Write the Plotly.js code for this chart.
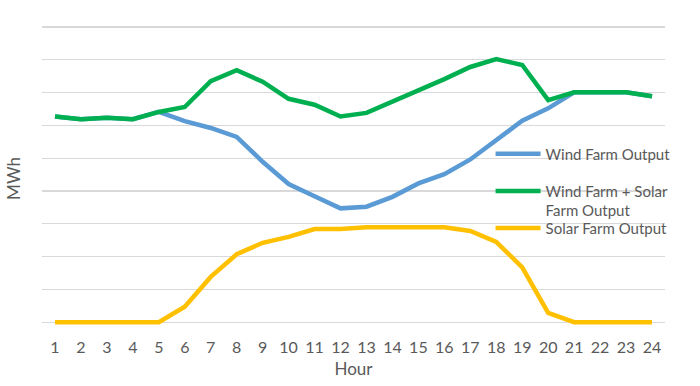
<!DOCTYPE html>
<html>
<head>
<meta charset="utf-8">
<script src="https://cdn.plot.ly/plotly-3.0.1.min.js"></script>
<style>html,body{margin:0;padding:0;background:#fff;}#chart{width:700px;height:386px;}</style>
</head>
<body>
<div id="chart"></div>
<script>
const hours = [1,2,3,4,5,6,7,8,9,10,11,12,13,14,15,16,17,18,19,20,21,22,23,24];
const windOutput = [6.27,6.19,6.23,6.19,6.41,6.13,5.92,5.65,4.89,4.21,3.84,3.47,3.52,3.82,4.23,4.51,4.96,5.55,6.14,6.52,7.01,7.01,7.01,6.89];
const windSolarOutput = [6.27,6.19,6.23,6.19,6.41,6.56,7.35,7.68,7.33,6.81,6.63,6.27,6.38,6.72,7.05,7.41,7.78,8.02,7.84,6.77,7.01,7.01,7.01,6.89];
const solarOutput = [0,0,0,0,0,0.47,1.38,2.07,2.42,2.60,2.84,2.84,2.89,2.89,2.89,2.89,2.78,2.45,1.67,0.28,0,0,0,0];

const FONT = 'Lato, sans-serif';
const TXT = '#595959';

const traces = [
  {x: hours, y: windOutput, type: 'scatter', mode: 'lines', name: 'Wind Farm Output',
   line: {color: '#5B9BD5', width: 4.5}, legend: 'legend'},
  {x: hours, y: windSolarOutput, type: 'scatter', mode: 'lines', name: 'Wind Farm + Solar<br>Farm Output',
   line: {color: '#00B050', width: 4.5}, legend: 'legend2'},
  {x: hours, y: solarOutput, type: 'scatter', mode: 'lines', name: 'Solar Farm Output',
   line: {color: '#FFC000', width: 4.5}, legend: 'legend3'}
];

const legBase = {bgcolor: 'rgba(0,0,0,0)', borderwidth: 0, font: {family: FONT, size: 15, color: TXT},
  xanchor: 'left', x: 0.72, valign: 'top', itemwidth: 45};

const layout = {
  width: 700, height: 386,
  margin: {l: 42, r: 35, t: 25, b: 54},
  paper_bgcolor: '#fff', plot_bgcolor: '#fff',
  font: {family: FONT, color: TXT},
  showlegend: true,
  legend: Object.assign({}, legBase, {y: 0.58, yanchor: 'middle'}),
  legend2: Object.assign({}, legBase, {y: 0.512, yanchor: 'top'}),
  legend3: Object.assign({}, legBase, {y: 0.338, yanchor: 'middle'}),
  xaxis: {
    range: [0.5, 24.5], tickmode: 'array', tickvals: hours, ticktext: hours.map(String),
    showgrid: false, zeroline: false, showline: false,
    ticks: 'outside', ticklen: 1, tickcolor: 'rgba(0,0,0,0)',
    tickfont: {family: FONT, size: 16, color: TXT},
    title: {text: 'Hour', font: {family: FONT, size: 17, color: TXT}, standoff: 7}
  },
  yaxis: {
    range: [-0.3, 9.06], tick0: 0, dtick: 1, showgrid: true, gridcolor: '#D9D9D9', gridwidth: 1.3,
    zeroline: false, showline: false, showticklabels: false, ticks: '',
    title: {text: 'MWh', font: {family: FONT, size: 17, color: TXT}, standoff: 16}
  }
};

Plotly.newPlot('chart', traces, layout, {displayModeBar: false, staticPlot: true});
</script>
</body>
</html>
